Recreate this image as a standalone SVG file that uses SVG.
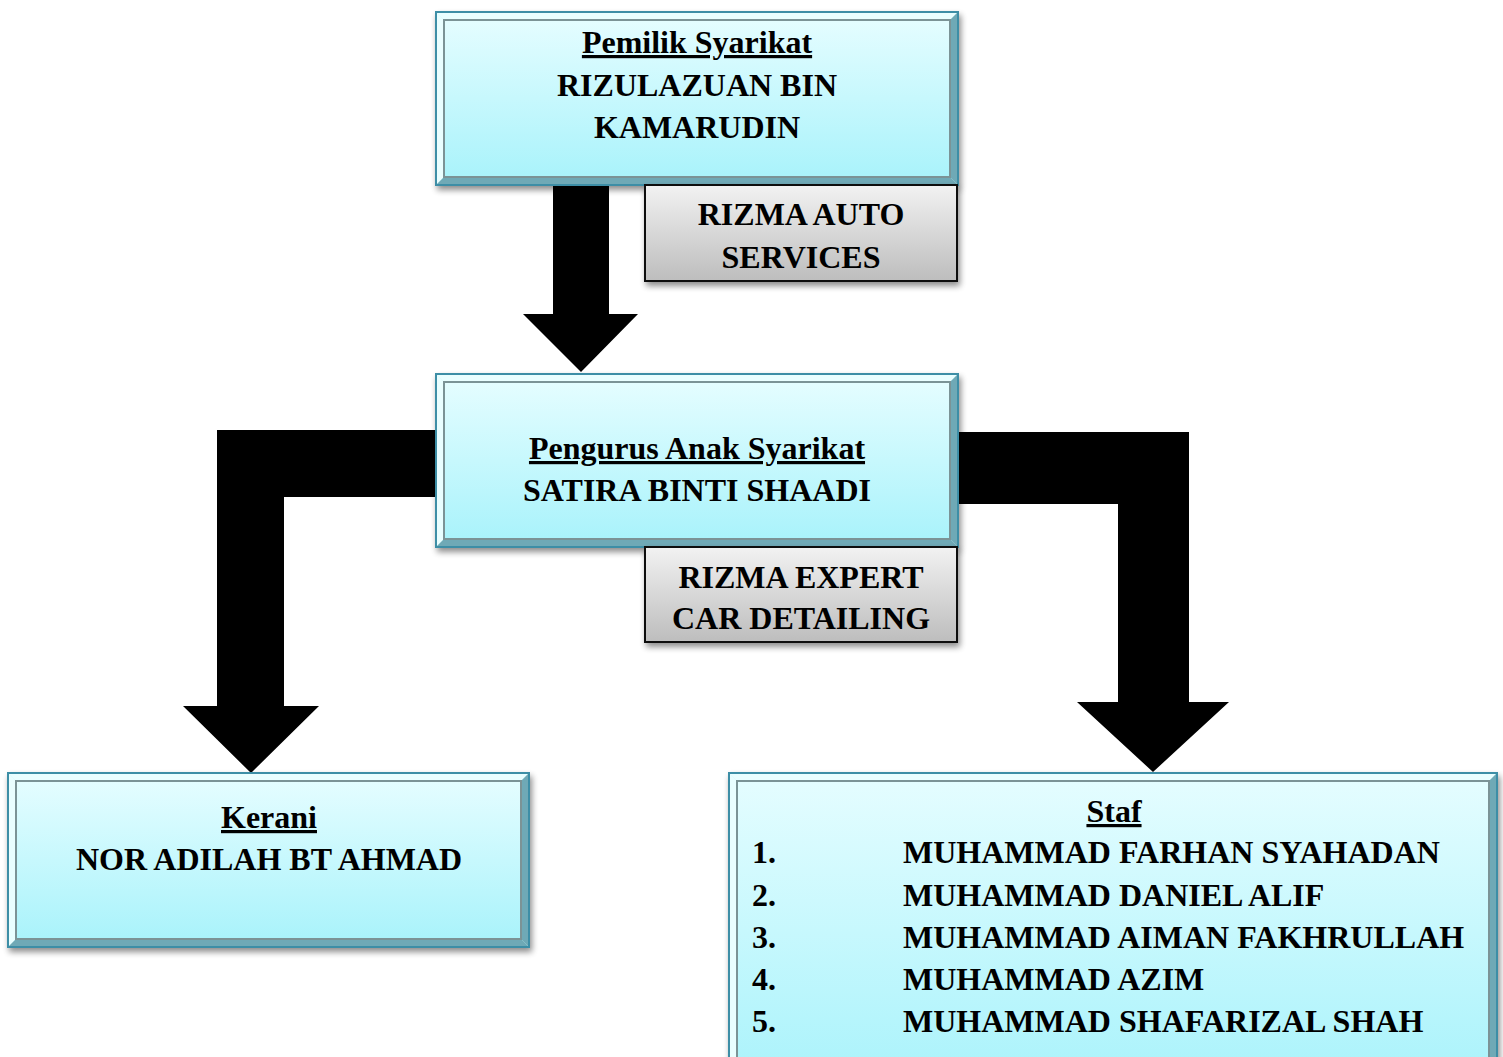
<svg xmlns="http://www.w3.org/2000/svg" width="1503" height="1057" viewBox="0 0 1503 1057">
<defs>
<linearGradient id="cyan" x1="0" y1="0" x2="0" y2="1">
<stop offset="0" stop-color="#e4fdff"/>
<stop offset="1" stop-color="#aaf3fb"/>
</linearGradient>
<linearGradient id="gray" x1="0" y1="0" x2="0" y2="1">
<stop offset="0" stop-color="#f2f2f2"/>
<stop offset="1" stop-color="#bdbdbd"/>
</linearGradient>
<filter id="sh" x="-5%" y="-10%" width="110%" height="130%">
<feGaussianBlur in="SourceAlpha" stdDeviation="3"/>
<feOffset dx="2" dy="4" result="b"/>
<feComponentTransfer><feFuncA type="linear" slope="0.45"/></feComponentTransfer>
<feMerge><feMergeNode/><feMergeNode in="SourceGraphic"/></feMerge>
</filter>
</defs>
<style>
.outer{fill:#c8f6fb;stroke:#3d8ea6;stroke-width:2}
.inner{fill:url(#cyan);stroke:#7b9396;stroke-width:2}
.lite{fill:#e9feff}
.dark{fill:#6fa9b6}
.gbox{fill:url(#gray);stroke:#111;stroke-width:2}
text{font-family:"Liberation Serif","Times New Roman",serif;font-weight:bold;font-size:32px;fill:#000}
.c{text-anchor:middle}
.u{text-decoration:underline}
.conn{fill:#000}
</style>
<g id="connectors">
<polygon class="conn" points="553,185 609,185 609,314 638,314 581,372 523,314 553,314"/>
<polygon class="conn" points="440,430 217,430 217,706 183,706 251,773 319,706 284,706 284,497 440,497"/>
<polygon class="conn" points="955,432 1189,432 1189,702 1229,702 1153,772 1077,702 1118,702 1118,504 955,504"/>
</g>
<g id="owner">
<g filter="url(#sh)">
<rect class="outer" x="436" y="12" width="522" height="173"/>
</g>
<polygon class="lite" points="437,13 957,13 950,20 444,20"/>
<polygon class="lite" points="437,13 444,20 444,177 437,184"/>
<polygon class="dark" points="957,13 957,184 950,177 950,20"/>
<polygon class="dark" points="437,184 957,184 950,177 444,177"/>
<rect class="inner" x="444" y="20" width="506" height="157"/>
<text class="c u" x="697" y="53">Pemilik Syarikat</text>
<text class="c" x="697" y="96">RIZULAZUAN BIN</text>
<text class="c" x="697" y="138">KAMARUDIN</text>
</g>
<g id="company1">
<rect class="gbox" x="645" y="185" width="312" height="96" filter="url(#sh)"/>
<text class="c" x="801" y="225">RIZMA AUTO</text>
<text class="c" x="801" y="268">SERVICES</text>
</g>
<g id="manager">
<g filter="url(#sh)">
<rect class="outer" x="436" y="374" width="522" height="173"/>
</g>
<polygon class="lite" points="437,375 957,375 950,382 444,382"/>
<polygon class="lite" points="437,375 444,382 444,539 437,546"/>
<polygon class="dark" points="957,375 957,546 950,539 950,382"/>
<polygon class="dark" points="437,546 957,546 950,539 444,539"/>
<rect class="inner" x="444" y="382" width="506" height="157"/>
<text class="c u" x="697" y="459">Pengurus Anak Syarikat</text>
<text class="c" x="697" y="501">SATIRA BINTI SHAADI</text>
</g>
<g id="company2">
<rect class="gbox" x="645" y="547" width="312" height="95" filter="url(#sh)"/>
<text class="c" x="801" y="588">RIZMA EXPERT</text>
<text class="c" x="801" y="629">CAR DETAILING</text>
</g>
<g id="kerani">
<g filter="url(#sh)">
<rect class="outer" x="8" y="773" width="521" height="174"/>
</g>
<polygon class="lite" points="9,774 528,774 521,781 16,781"/>
<polygon class="lite" points="9,774 16,781 16,939 9,946"/>
<polygon class="dark" points="528,774 528,946 521,939 521,781"/>
<polygon class="dark" points="9,946 528,946 521,939 16,939"/>
<rect class="inner" x="16" y="781" width="505" height="158"/>
<text class="c u" x="269" y="828">Kerani</text>
<text class="c" x="269" y="870">NOR ADILAH BT AHMAD</text>
</g>
<g id="staf">
<g filter="url(#sh)">
<rect class="outer" x="729" y="773" width="768" height="300"/>
</g>
<polygon class="lite" points="730,774 1496,774 1489,781 737,781"/>
<polygon class="lite" points="730,774 737,781 737,1070 730,1070"/>
<polygon class="dark" points="1496,774 1496,1070 1489,1070 1489,781"/>
<rect class="inner" x="737" y="781" width="752" height="300"/>
<text class="c u" x="1114" y="822">Staf</text>
<text x="752" y="863">1.</text>
<text x="903" y="863">MUHAMMAD FARHAN SYAHADAN</text>
<text x="752" y="906">2.</text>
<text x="903" y="906">MUHAMMAD DANIEL ALIF</text>
<text x="752" y="948">3.</text>
<text x="903" y="948">MUHAMMAD AIMAN FAKHRULLAH</text>
<text x="752" y="990">4.</text>
<text x="903" y="990">MUHAMMAD AZIM</text>
<text x="752" y="1032">5.</text>
<text x="903" y="1032">MUHAMMAD SHAFARIZAL SHAH</text>
</g>
</svg>
